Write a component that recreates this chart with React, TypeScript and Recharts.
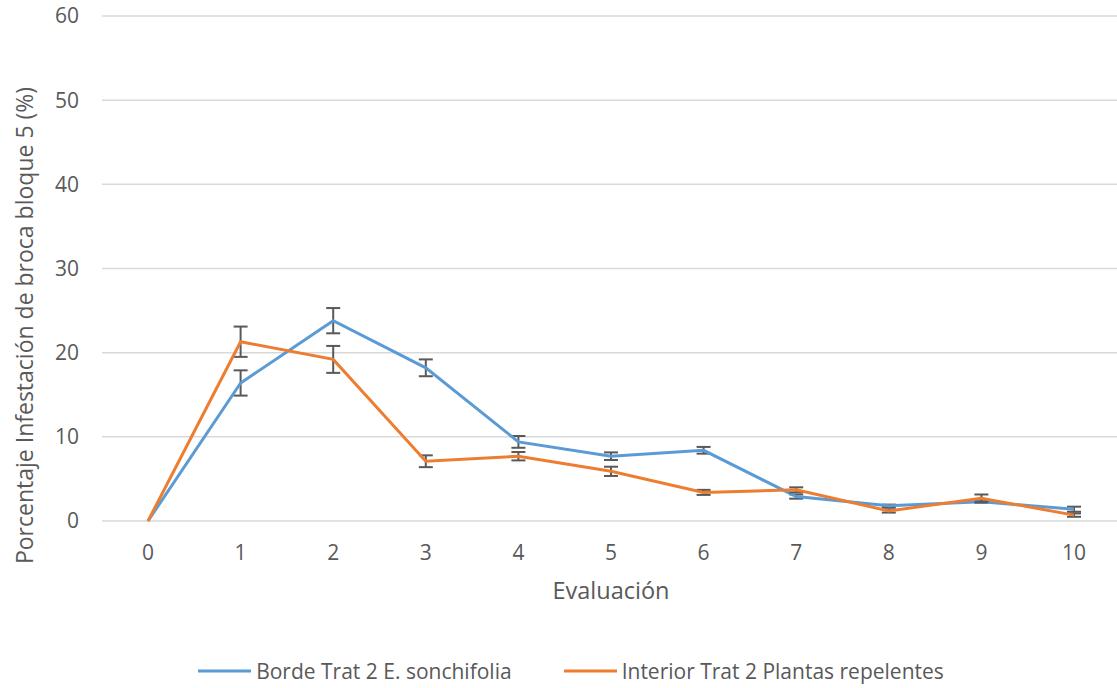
import React from 'react';
import { LineChart, Line, XAxis, YAxis, CartesianGrid, Legend, ErrorBar } from 'recharts';

const evaluaciones = [0, 1, 2, 3, 4, 5, 6, 7, 8, 9, 10];
const borde = [0, 16.4, 23.8, 18.2, 9.4, 7.7, 8.4, 2.9, 1.8, 2.3, 1.4];
const bordeErr = [0, 1.5, 1.5, 1.0, 0.7, 0.45, 0.4, 0.25, 0.15, 0.15, 0.3];
const interior = [0, 21.3, 19.2, 7.1, 7.7, 5.9, 3.4, 3.7, 1.2, 2.7, 0.7];
const interiorErr = [0, 1.8, 1.6, 0.7, 0.5, 0.55, 0.3, 0.3, 0.2, 0.45, 0.2];
const yTicks = [0, 10, 20, 30, 40, 50, 60];

const seriesNames = ['Borde Trat 2 E. sonchifolia', 'Interior Trat 2 Plantas repelentes'];
const colors = ['#5B9BD5', '#ED7D31'];

const data = evaluaciones.map((e, i) => ({
  eval: e,
  borde: borde[i],
  bordeErr: bordeErr[i],
  interior: interior[i],
  interiorErr: interiorErr[i],
}));

const FONT = "'Open Sans', sans-serif";
const TEXT = '#595959';

const LegendContent = () => (
  <div
    style={{
      display: 'flex',
      justifyContent: 'center',
      alignItems: 'center',
      height: 30,
      paddingLeft: 22,
      fontFamily: FONT,
      fontSize: 21,
      color: TEXT,
    }}
  >
    {seriesNames.map((n, i) => (
      <div key={n} style={{ display: 'flex', alignItems: 'center', marginRight: i === 0 ? 52 : 0 }}>
        <svg width={53} height={6} style={{ marginRight: 5 }}>
          <line x1={0} y1={3} x2={53} y2={3} stroke={colors[i]} strokeWidth={3} />
        </svg>
        <span style={{ whiteSpace: 'nowrap' }}>{n}</span>
      </div>
    ))}
  </div>
);

export default function App() {
  return (
    <div style={{ position: 'absolute', left: 0, top: 0, width: 1117, height: 688, overflow: 'hidden', background: '#fff' }}>
      <LineChart width={1120} height={688} data={data} margin={{ top: 16, right: 0, bottom: 2, left: 0 }}>
        <CartesianGrid horizontal vertical={false} stroke="#D9D9D9" strokeWidth={1.5} />
        <XAxis
          dataKey="eval"
          type="category"
          padding={{ left: 46, right: 46 }}
          axisLine={false}
          tickLine={false}
          tickSize={0}
          tickMargin={24}
          height={135}
          tick={{ fill: TEXT, fontSize: 21, fontFamily: FONT }}
          interval={0}
          label={{
            content: (p: any) => {
              const vb = p.viewBox || { x: 102, y: 521, width: 1018, height: 135 };
              return (
                <text x={vb.x + vb.width / 2} y={vb.y + 78} textAnchor="middle" fill={TEXT} fontSize={23.5} fontFamily={FONT}>
                  Evaluación
                </text>
              );
            },
          }}
        />
        <YAxis
          domain={[0, 60]}
          ticks={yTicks}
          width={102}
          axisLine={false}
          tickLine={false}
          tickSize={0}
          tickMargin={23}
          tick={{ fill: TEXT, fontSize: 21, fontFamily: FONT }}
          label={{
            content: (p: any) => {
              const vb = p.viewBox || { x: 0, y: 16, width: 102, height: 505 };
              const cx = vb.x + 33;
              const cy = vb.y + vb.height / 2 + 57;
              return (
                <text x={cx} y={cy} textAnchor="middle" fill={TEXT} fontSize={23} fontFamily={FONT} transform={`rotate(-90, ${cx}, ${cy})`}>
                  Porcentaje Infestación de broca bloque 5 (%)
                </text>
              );
            },
          }}
        />
        <Legend verticalAlign="bottom" content={<LegendContent />} />
        <Line type="linear" dataKey="borde" name={seriesNames[0]} stroke={colors[0]} strokeWidth={3} dot={false} isAnimationActive={false}>
          <ErrorBar dataKey="bordeErr" direction="y" width={7} stroke="#595959" strokeWidth={2} isAnimationActive={false} />
        </Line>
        <Line type="linear" dataKey="interior" name={seriesNames[1]} stroke={colors[1]} strokeWidth={3} dot={false} isAnimationActive={false}>
          <ErrorBar dataKey="interiorErr" direction="y" width={7} stroke="#595959" strokeWidth={2} isAnimationActive={false} />
        </Line>
      </LineChart>
    </div>
  );
}
